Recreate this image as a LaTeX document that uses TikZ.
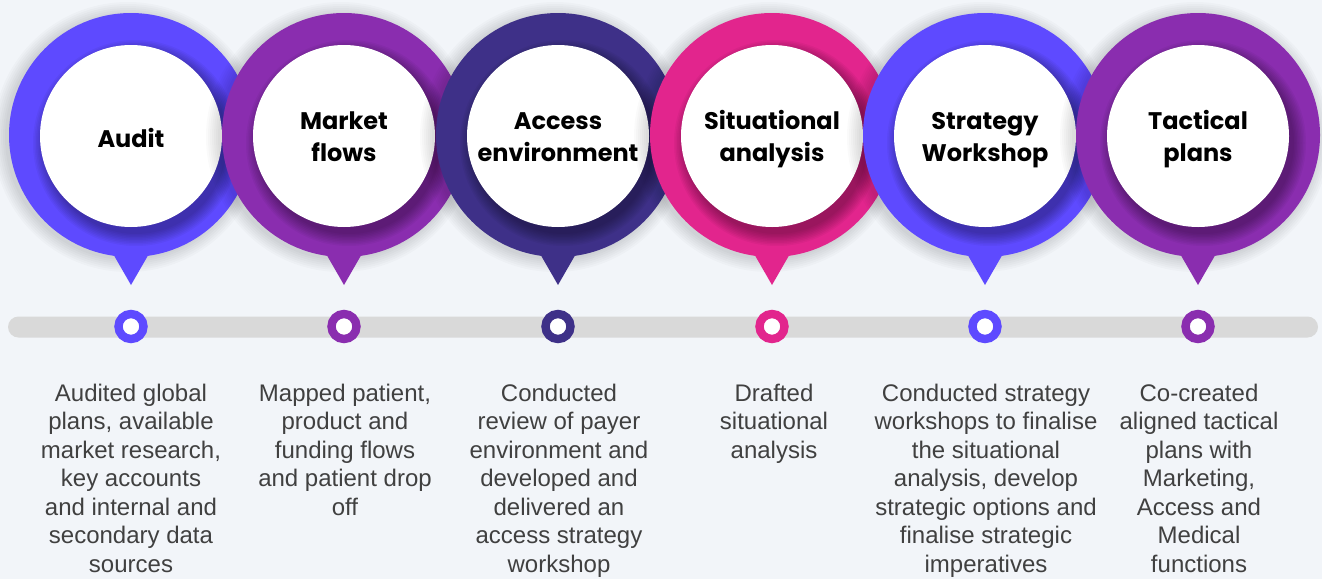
\documentclass[tikz,border=0pt]{standalone}
\usepackage{fontspec}
\setmainfont{Liberation Sans}
\newfontfamily\titlefont{Poppins}
\definecolor{bg}{HTML}{F2F5F9}
\definecolor{cBlue}{HTML}{5E4AFF}
\definecolor{cPurple}{HTML}{8A2DAF}
\definecolor{cNavy}{HTML}{3E3088}
\definecolor{cPink}{HTML}{E2258D}
\definecolor{barcol}{HTML}{D9D9D9}
\definecolor{txt}{HTML}{404040}
\tikzset{
  titletext/.style={font=\titlefont\bfseries\fontsize{24}{32}\selectfont, align=center, text=black, inner sep=0pt, anchor=north},
  bodytext/.style={font=\fontsize{24}{28.5}\selectfont, align=center, text=txt, inner sep=0pt, anchor=north},
  markring/.style={circle, draw=#1, line width=8.4pt, fill=white, minimum size=25pt, inner sep=0pt},
  innerdisc/.style={circle, fill=white, minimum size=182pt, inner sep=0pt},
}
\newcommand\drawpin[3]{%
  \foreach \r in {123,125,...,135} {\fill[black,opacity=0.018] (#1-3,137) circle (\r pt);}
  \fill[#2] (#1-23,245) -- (#1+23,245) -- (#1,285) -- cycle;
  \fill[#2] (#1,135) circle (122pt);
  \begin{scope}
    \clip (#1,135) circle (122pt);
    \foreach \r in {91,92.5,...,104} {\fill[black,opacity=0.04] (#1+5,143) circle (\r pt);}
  \end{scope}
  \node[innerdisc] (#3) at (#1,136) {};
}
\begin{document}
\begin{tikzpicture}[x=1pt,y=-1pt]
\fill[bg] (0,0) rectangle (1322,579);
\useasboundingbox (0,0) rectangle (1322,579);

\drawpin{131}{cBlue}{p1}
\drawpin{344}{cPurple}{p2}
\drawpin{558}{cNavy}{p3}
\drawpin{772}{cPink}{p4}
\drawpin{985}{cBlue}{p5}
\drawpin{1198}{cPurple}{p6}

\node[titletext] (t1) at (131,127) {\rule{0pt}{20pt}Audit};
\node[titletext] (t2) at (344,109) {\rule{0pt}{20pt}Market\\flows};
\node[titletext] (t3) at (558,109) {\rule{0pt}{20pt}Access\\environment};
\node[titletext] (t4) at (772,109) {\rule{0pt}{20pt}Situational\\analysis};
\node[titletext] (t5) at (985,109) {\rule{0pt}{20pt}Strategy\\Workshop};
\node[titletext] (t6) at (1198,109) {\rule{0pt}{20pt}Tactical\\plans};

\fill[barcol, rounded corners=10.5pt] (8,316.5) rectangle (1318,337.5);

\node[markring=cBlue] (m1) at (131,326.5) {};
\node[markring=cPurple] (m2) at (344,326.5) {};
\node[markring=cNavy] (m3) at (558,326.5) {};
\node[markring=cPink] (m4) at (772,326.5) {};
\node[markring=cBlue] (m5) at (985,326.5) {};
\node[markring=cPurple] (m6) at (1198,326.5) {};

\node[bodytext] (b1) at (131,383) {\rule{0pt}{18pt}Audited global\\plans, available\\market research,\\key accounts\\and internal and\\secondary data\\sources};
\node[bodytext] (b2) at (345,383) {\rule{0pt}{18pt}Mapped patient,\\product and\\funding flows\\and patient drop\\off};
\node[bodytext] (b3) at (559,383) {\rule{0pt}{18pt}Conducted\\review of payer\\environment and\\developed and\\delivered an\\access strategy\\workshop};
\node[bodytext] (b4) at (774,383) {\rule{0pt}{18pt}Drafted\\situational\\analysis};
\node[bodytext] (b5) at (986,383) {\rule{0pt}{18pt}Conducted strategy\\workshops to finalise\\the situational\\analysis, develop\\strategic options and\\finalise strategic\\imperatives};
\node[bodytext] (b6) at (1199,383) {\rule{0pt}{18pt}Co-created\\aligned tactical\\plans with\\Marketing,\\Access and\\Medical\\functions};
\end{tikzpicture}
\end{document}
